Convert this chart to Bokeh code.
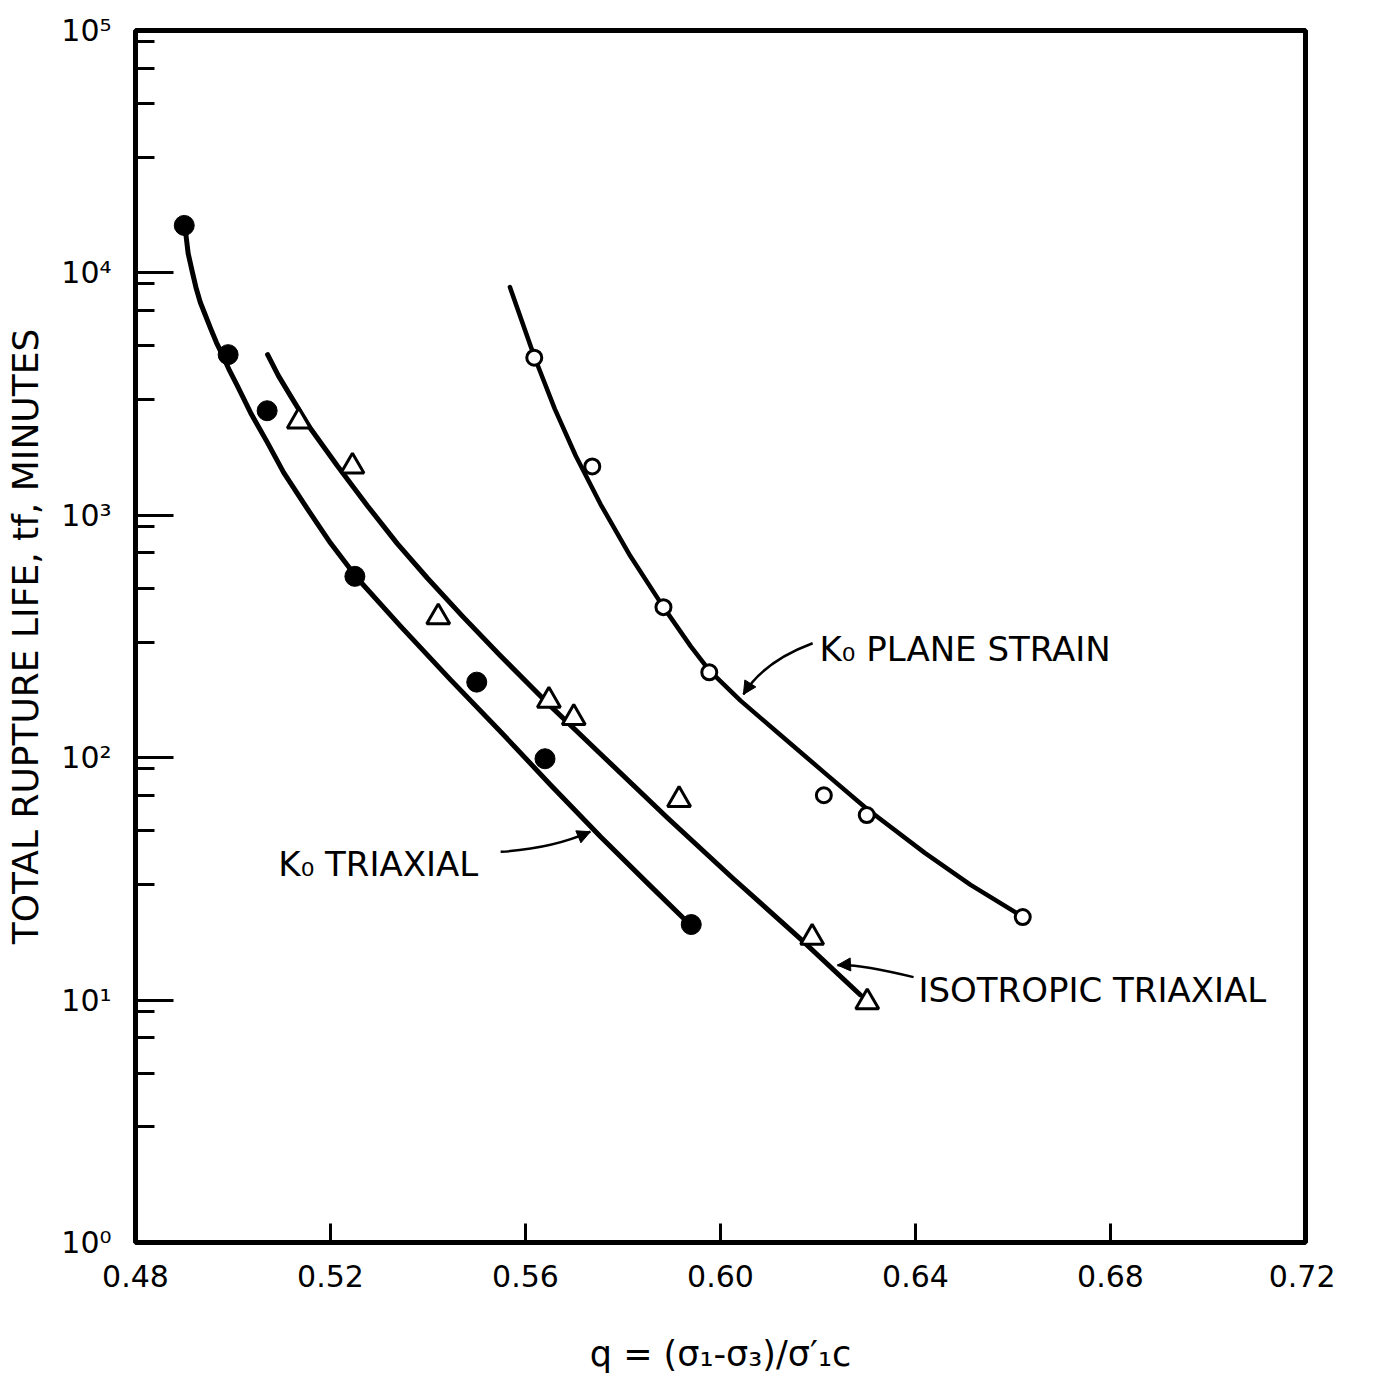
from bokeh.plotting import figure
from bokeh.models import FixedTicker, Label, Arrow, NormalHead, Range1d, PrintfTickFormatter
from bokeh.embed import file_html
from bokeh.resources import INLINE

# ---- data ----
k0_triaxial_q = [0.490, 0.499, 0.507, 0.525, 0.550, 0.564, 0.594]
k0_triaxial_t = [15700, 4600, 2700, 560, 205, 99, 20.5]

iso_q = [0.5135, 0.5245, 0.5421, 0.5648, 0.5699, 0.5915, 0.6188, 0.6301]
iso_t = [2440, 1590, 380, 172, 146, 67, 18.1, 9.8]

ps_q = [0.5618, 0.5737, 0.5883, 0.5977, 0.6212, 0.6300, 0.6620]
ps_t = [4470, 1590, 418, 225, 70, 58, 22]

# hand-drawn fitted curves
k0_triaxial_fit_q = [0.4903, 0.4908, 0.4917, 0.4924, 0.4933, 0.4944, 0.4954, 0.4966, 0.4979,
                     0.4993, 0.5009, 0.5036, 0.5071, 0.5104, 0.5153, 0.5200, 0.5255, 0.5344,
                     0.5446, 0.5549, 0.5651, 0.5754, 0.5856, 0.5934]
k0_triaxial_fit_t = [14600, 12040, 10000, 8710, 7550, 6640, 5900, 5160, 4560,
                     3950, 3420, 2650, 1990, 1500, 1060, 768, 550, 348,
                     210, 128, 77.4, 47.2, 29.6, 20.8]

iso_fit_q = [0.5071, 0.5093, 0.5118, 0.5159, 0.5214, 0.5276, 0.5337, 0.5399, 0.5471,
             0.5549, 0.5645, 0.5754, 0.5891, 0.6027, 0.6164, 0.6287]
iso_fit_t = [4600, 3770, 3110, 2280, 1600, 1093, 764, 550, 383,
             263, 168, 103.6, 56.5, 31.6, 17.9, 10.5]

ps_fit_q = [0.5568, 0.5618, 0.5660, 0.5703, 0.5754, 0.5815, 0.5883, 0.5939, 0.5977, 0.6041,
            0.6117, 0.6213, 0.6300, 0.6419, 0.6513, 0.6615]
ps_fit_t = [8740, 4520, 2750, 1760, 1110, 679, 418, 288, 229, 172, 127, 86.8, 61.6, 40.5, 29.9, 22.4]

x_ticks = [0.48, 0.52, 0.56, 0.60, 0.64, 0.68, 0.72]
y_major = [1.0, 10.0, 100.0, 1000.0, 10000.0, 100000.0]
y_labels = ["10\u2070", "10\u00b9", "10\u00b2", "10\u00b3", "10\u2074", "10\u2075"]
y_minor_mult = [3, 5, 7, 9]

FONT = "DejaVu Sans"

p = figure(frame_width=1170, frame_height=1212,
           x_range=Range1d(0.48, 0.72), y_range=Range1d(1, 1e5),
           y_axis_type="log", output_backend="svg", toolbar_location=None,
           min_border_left=135, min_border_top=30, min_border_right=30, min_border_bottom=10)

p.background_fill_color = "white"
p.border_fill_color = "white"
p.outline_line_color = "black"
p.outline_line_width = 5
p.xgrid.visible = False
p.ygrid.visible = False

# x axis
p.xaxis.ticker = FixedTicker(ticks=x_ticks, minor_ticks=[])
p.xaxis.formatter = PrintfTickFormatter(format="%.2f")
p.xaxis.major_tick_in = 19
p.xaxis.major_tick_out = 0
p.xaxis.minor_tick_in = 0
p.xaxis.minor_tick_out = 0
p.xaxis.major_tick_line_width = 3
p.xaxis.major_label_standoff = 22
p.xaxis.axis_label = "q = (\u03c3\u2081-\u03c3\u2083)/\u03c3\u2032\u2081c"
p.xaxis.axis_label_standoff = 44

# y axis
minor = [m * 10 ** k for k in range(5) for m in y_minor_mult]
p.yaxis.ticker = FixedTicker(ticks=y_major, minor_ticks=minor)
p.yaxis.major_label_overrides = {v: s for v, s in zip(y_major, y_labels)}
p.yaxis.major_tick_in = 38
p.yaxis.major_tick_out = 0
p.yaxis.minor_tick_in = 19
p.yaxis.minor_tick_out = 0
p.yaxis.major_tick_line_width = 3
p.yaxis.minor_tick_line_width = 3
p.yaxis.major_label_standoff = 24
p.yaxis.axis_label = "TOTAL RUPTURE LIFE, tf, MINUTES"
p.yaxis.axis_label_standoff = 12

for ax in (p.xaxis, p.yaxis):
    ax.axis_line_color = None
    ax.major_tick_line_color = "black"
    ax.minor_tick_line_color = "black"
    ax.major_label_text_font = FONT
    ax.major_label_text_font_size = "30px"
    ax.major_label_text_color = "black"
    ax.axis_label_text_font = FONT
    ax.axis_label_text_font_style = "normal"
    ax.axis_label_text_color = "black"
p.xaxis.axis_label_text_font_size = "35px"
p.yaxis.axis_label_text_font_size = "36px"

# curves
p.line(k0_triaxial_fit_q, k0_triaxial_fit_t, line_width=5, line_color="black",
       line_cap="round", line_join="round")
p.line(iso_fit_q, iso_fit_t, line_width=5, line_color="black",
       line_cap="round", line_join="round")
p.line(ps_fit_q, ps_fit_t, line_width=4.5, line_color="black",
       line_cap="round", line_join="round")

# data points
p.scatter(k0_triaxial_q, k0_triaxial_t, marker="circle", size=20,
          fill_color="black", line_color="black")
p.scatter(iso_q, iso_t, marker="triangle", size=23, fill_color="white",
          line_color="black", line_width=3)
p.scatter(ps_q, ps_t, marker="circle", size=15, fill_color="white",
          line_color="black", line_width=3)

# annotations
def label(x, y, text):
    p.add_layout(Label(x=x, y=y, text=text, text_font=FONT, text_font_size="34px",
                       text_color="black", text_align="left", text_baseline="alphabetic"))

label(0.6203, 280, "K\u2080 PLANE STRAIN")
label(0.5093, 36.5, "K\u2080 TRIAXIAL")
label(0.6406, 11.0, "ISOTROPIC TRIAXIAL")

# leader arrows
p.quadratic(x0=[0.6189, 0.5549, 0.6396], y0=[296.5, 40.9, 12.44],
            cx=[0.6088, 0.5654, 0.6281], cy=[249.2, 42.1, 14.15],
            x1=[0.6047, 0.5733, 0.6240], y1=[182.4, 49.5, 13.94],
            line_width=2.5, line_color="black")
for xs, ys, xe, ye in [(0.6060, 200.6, 0.6047, 182.4),
                       (0.5711, 47.4, 0.5733, 49.5),
                       (0.6261, 14.01, 0.6240, 13.94)]:
    p.add_layout(Arrow(end=NormalHead(size=13, fill_color="black", line_color="black"),
                       x_start=xs, y_start=ys, x_end=xe, y_end=ye,
                       line_width=2.5, line_color="black"))

open("out.html", "w").write(file_html(p, INLINE))
